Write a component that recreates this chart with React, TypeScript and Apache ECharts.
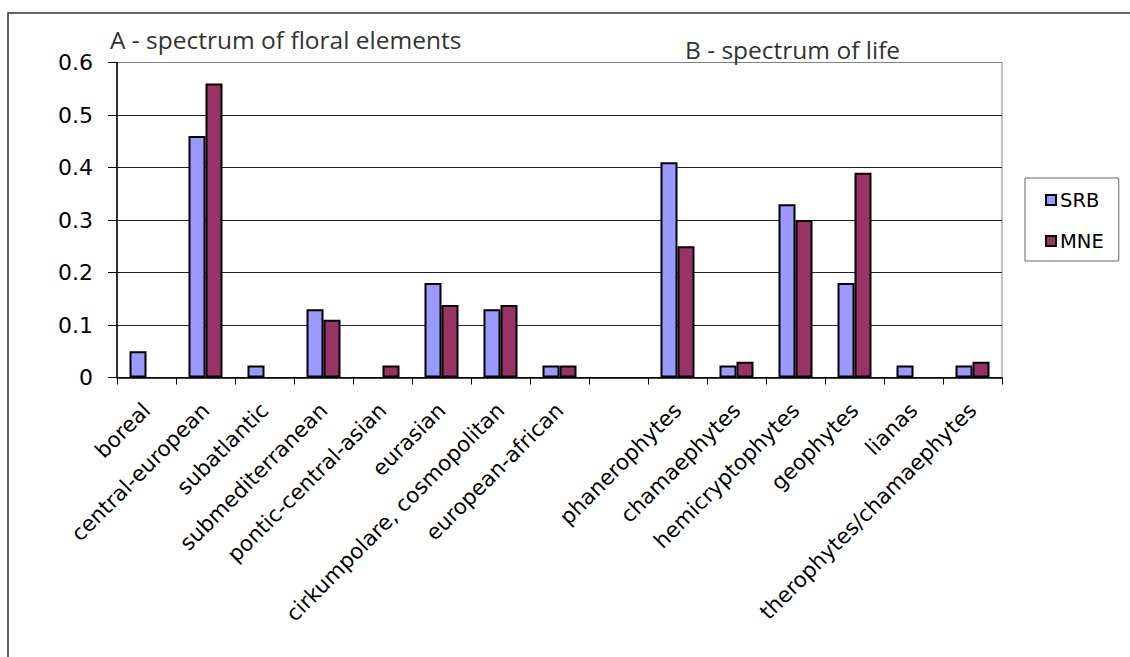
import React, { useEffect, useRef } from "react";
import * as echarts from "echarts";

const categories = [
  "boreal",
  "central-european",
  "subatlantic",
  "submediterranean",
  "pontic-central-asian",
  "eurasian",
  "cirkumpolare, cosmopolitan",
  "european-african",
  "",
  "phanerophytes",
  "chamaephytes",
  "hemicryptophytes",
  "geophytes",
  "lianas",
  "therophytes/chamaephytes",
];

const srbValues = [0.05, 0.46, 0.023, 0.13, null, 0.18, 0.13, 0.023, null, 0.41, 0.023, 0.33, 0.18, 0.023, 0.023];
const mneValues = [null, 0.56, null, 0.11, 0.023, 0.138, 0.138, 0.023, null, 0.25, 0.03, 0.3, 0.39, null, 0.03];

const seriesNames = ["SRB", "MNE"];
const seriesColors = ["#9999FF", "#993366"];
const titleA = "A - spectrum of floral elements";
const titleB = "B - spectrum of life";

export default function App() {
  const ref = useRef<HTMLDivElement>(null);

  useEffect(() => {
    if (!ref.current) return;
    const chart = echarts.init(ref.current, null, { renderer: "svg" });
    const barStyle = (i: number) => ({
      color: seriesColors[i],
      borderColor: "#000",
      borderWidth: 2,
    });
    chart.setOption({
      animation: false,
      backgroundColor: "#fff",
      textStyle: { fontFamily: "DejaVu Sans, sans-serif" },
      title: [
        {
          text: titleA,
          left: 105,
          top: 22,
          textStyle: { fontFamily: "Open Sans", fontSize: 24.5, fontWeight: "normal", color: "#333" },
        },
        {
          text: titleB,
          left: 680,
          top: 32,
          textStyle: { fontFamily: "Open Sans", fontSize: 24.5, fontWeight: "normal", color: "#333" },
        },
      ],
      graphic: [
        {
          type: "rect",
          shape: { x: 8, y: 13, width: 1200, height: 700 },
          style: { fill: "none", stroke: "#333", lineWidth: 1.5 },
          silent: true,
        },
      ],
      legend: {
        orient: "vertical",
        left: 1025,
        top: 178,
        padding: [12, 15, 10, 20],
        itemGap: 21,
        itemWidth: 10,
        itemHeight: 10,
        borderColor: "#666",
        borderWidth: 1,
        icon: "rect",
        textStyle: { fontFamily: "DejaVu Sans", fontSize: 19.5, color: "#000", padding: [0, 0, 0, -1] },
        data: seriesNames,
      },
      grid: {
        left: 117,
        top: 62.5,
        right: 128,
        bottom: 279.5,
        show: true,
        borderColor: "#808080",
        borderWidth: 1,
        containLabel: false,
      },
      xAxis: {
        type: "category",
        data: categories,
        boundaryGap: true,
        axisLine: { lineStyle: { color: "#000", width: 1.5 } },
        axisTick: { show: true, length: 7, interval: 0, lineStyle: { color: "#000" } },
        axisLabel: {
          interval: 0,
          rotate: 45,
          fontFamily: "DejaVu Sans",
          fontSize: 21.5,
          color: "#000",
          margin: 29,
        },
        splitLine: { show: false },
      },
      yAxis: {
        type: "value",
        min: 0,
        max: 0.6,
        interval: 0.1,
        axisLine: { show: true, lineStyle: { color: "#000", width: 1.5 } },
        axisTick: { show: true, length: 9, lineStyle: { color: "#000" } },
        axisLabel: {
          fontFamily: "DejaVu Sans",
          fontSize: 22,
          color: "#000",
          margin: 24,
          formatter: (v: number) => String(Math.round(v * 10) / 10),
        },
        splitLine: { show: true, showMaxLine: false, lineStyle: { color: "#222", width: 1 } },
      },
      series: [
        {
          name: seriesNames[0],
          type: "bar",
          data: srbValues,
          barWidth: 17,
          barGap: "0%",
          itemStyle: barStyle(0),
        },
        {
          name: seriesNames[1],
          type: "bar",
          data: mneValues,
          barWidth: 17,
          barGap: "0%",
          itemStyle: barStyle(1),
        },
      ],
    });
    return () => chart.dispose();
  }, []);

  return (
    <div
      ref={ref}
      style={{ position: "fixed", left: 0, top: 0, width: 1130, height: 657 }}
    />
  );
}
